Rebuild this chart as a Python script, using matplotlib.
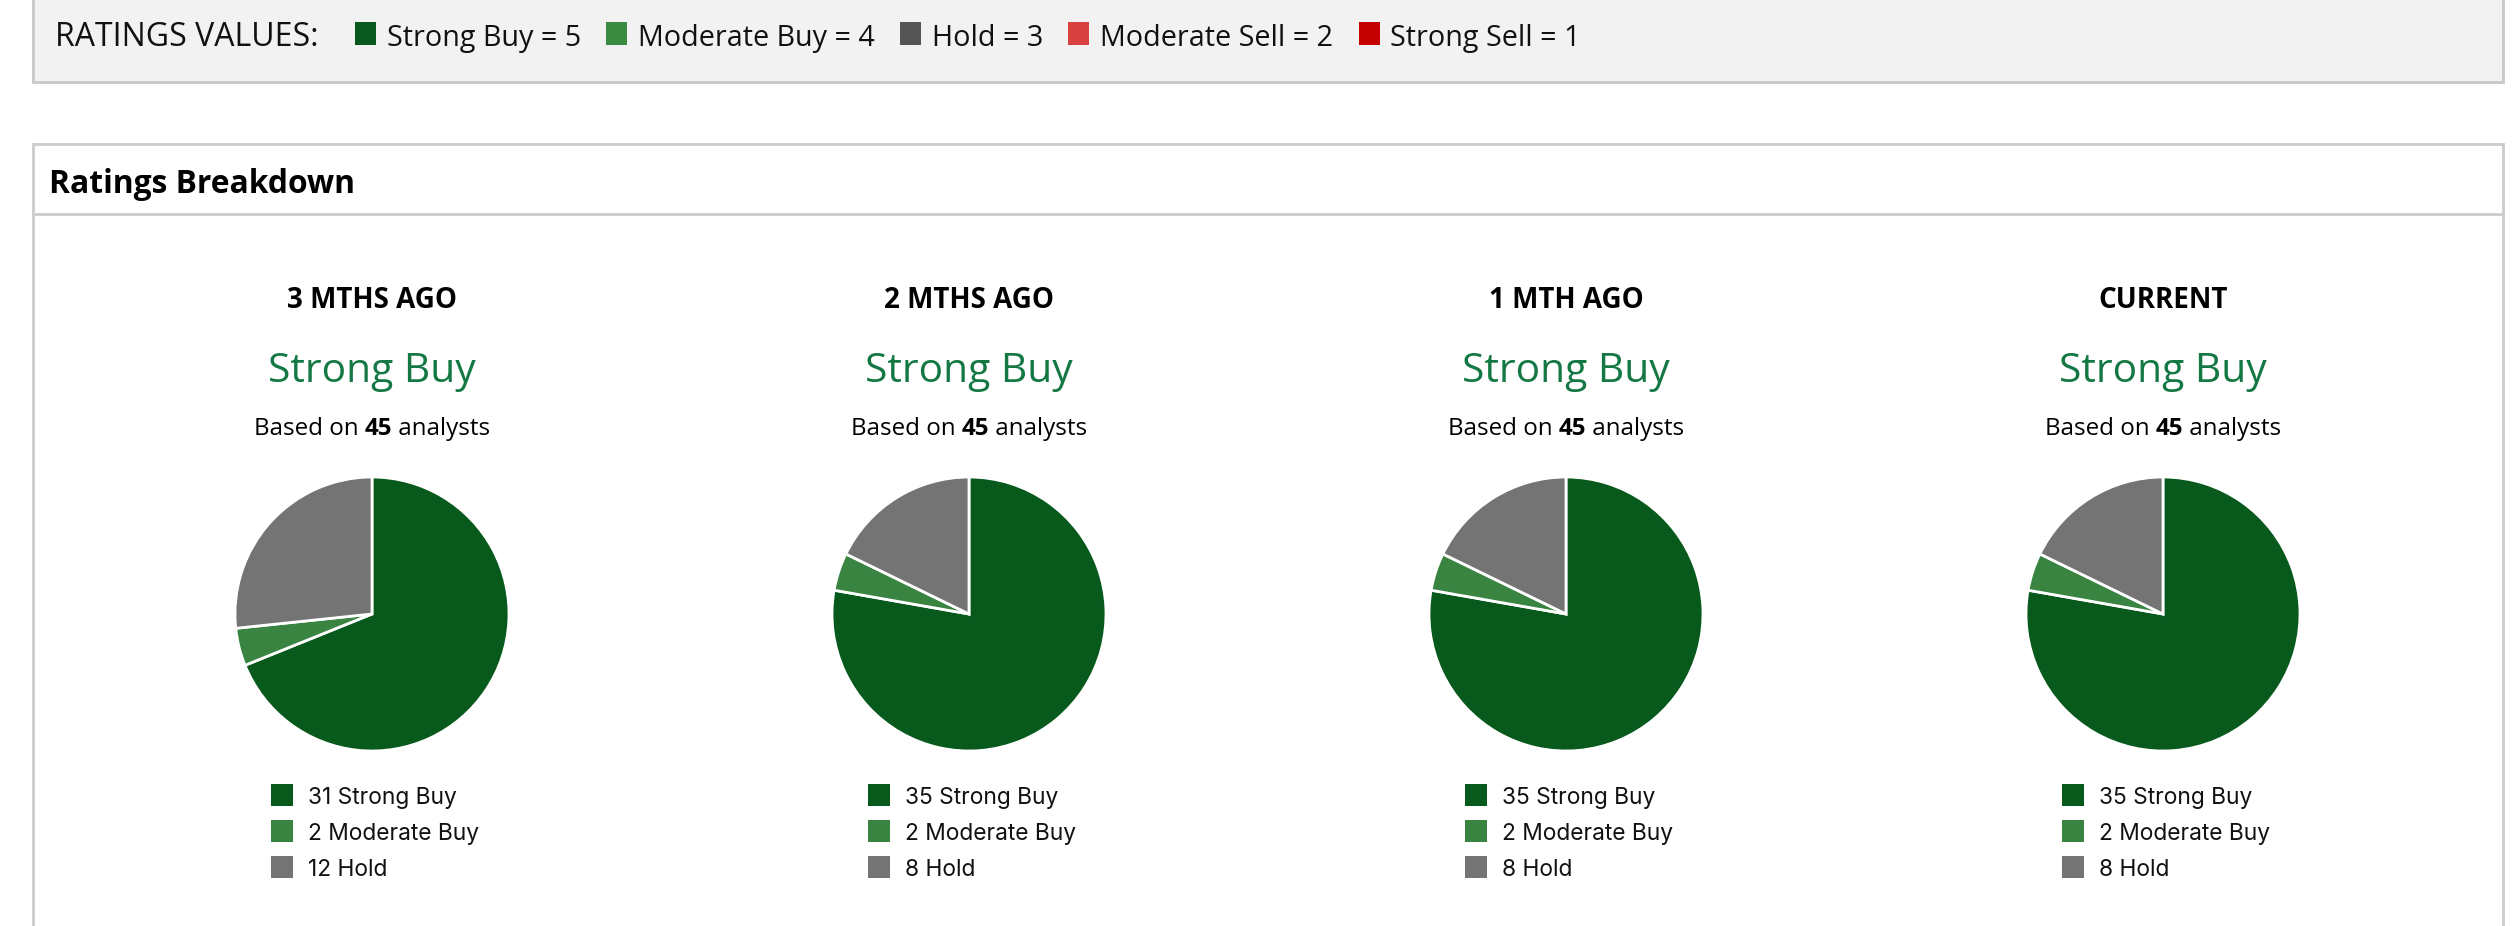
import matplotlib
matplotlib.use("Agg")
import matplotlib.pyplot as plt
from matplotlib.patches import Rectangle

# ---------------- data ----------------
rating_names = ["Strong Buy", "Moderate Buy", "Hold", "Moderate Sell", "Strong Sell"]
rating_values = [5, 4, 3, 2, 1]
header_colors = ["#07591d", "#3b8a42", "#555555", "#d94040", "#c40000"]

periods = ["3 MTHS AGO", "2 MTHS AGO", "1 MTH AGO", "CURRENT"]
consensus = ["Strong Buy", "Strong Buy", "Strong Buy", "Strong Buy"]
analysts = [45, 45, 45, 45]
strong_buy = [31, 35, 35, 35]
moderate_buy = [2, 2, 2, 2]
hold = [12, 8, 8, 8]
slice_names = ["Strong Buy", "Moderate Buy", "Hold"]
slice_colors = ["#07591c", "#3a8441", "#747474"]

# ---------------- figure ----------------
W, H = 2516, 926
DPI = 100
fig = plt.figure(figsize=(W / DPI, H / DPI), dpi=DPI)
bg = fig.add_axes([0, 0, 1, 1])
bg.set_xlim(0, W)
bg.set_ylim(H, 0)
bg.axis("off")

TF = "Open Sans"
LF = "Inter"

# header box
bg.add_patch(Rectangle((33, -10), 2470, 92, facecolor="#f2f2f2",
                       edgecolor="#c8c8c8", linewidth=2))
bg.text(55, 46, "RATINGS VALUES:", fontfamily=TF, fontsize=23,
        va="baseline", ha="left", color="#111111")

fig.canvas.draw()
renderer = fig.canvas.get_renderer()

x = 355
for name, val, col in zip(rating_names, rating_values, header_colors):
    bg.add_patch(Rectangle((x, 22), 21, 23, facecolor=col, edgecolor="none"))
    t = bg.text(x + 32, 46, f"{name} = {val}", fontfamily=TF, fontsize=20.7,
                va="baseline", ha="left", color="#111111")
    bb = t.get_window_extent(renderer)
    x = x + 32 + bb.width + 25

# ratings breakdown box
bg.add_patch(Rectangle((33, 144), 2470, 900, facecolor="white",
                       edgecolor="#cccccc", linewidth=2))
bg.plot([33, 2503], [214, 214], color="#cccccc", linewidth=2)
bg.text(49, 193, "Ratings Breakdown", fontfamily=TF, fontweight="bold",
        fontsize=22.9, va="baseline", ha="left", color="#000000")

centers = [372, 969, 1566, 2163]
R = 137
pie_cy = 614

for i, cx in enumerate(centers):
    bg.text(cx, 308, periods[i], fontfamily=TF, fontweight="bold", fontsize=20,
            ha="center", va="baseline", color="#000000")
    bg.text(cx, 382, consensus[i], fontfamily=TF, fontsize=29.3,
            ha="center", va="baseline", color="#147844")
    # "Based on **45** analysts"
    parts = [("Based on ", "normal"), (str(analysts[i]), "bold"), (" analysts", "normal")]
    widths = []
    tmp = []
    for s, w in parts:
        t = bg.text(0, 0, s.replace(" ", "\u00a0"), fontfamily=TF, fontsize=17.4, fontweight=w)
        widths.append(t.get_window_extent(renderer).width)
        tmp.append(t)
    for t in tmp:
        t.remove()
    total = sum(widths)
    xs = cx - total / 2
    for (s, w), wd in zip(parts, widths):
        bg.text(xs, 435, s.replace(" ", "\u00a0"), fontfamily=TF, fontsize=17.4,
                fontweight=w, ha="left", va="baseline", color="#000000")
        xs += wd

    # pie
    pax = fig.add_axes([(cx - R) / W, 1 - (pie_cy + R) / H, 2 * R / W, 2 * R / H])
    vals = [strong_buy[i], moderate_buy[i], hold[i]]
    pax.pie(vals, colors=slice_colors, startangle=90, counterclock=False,
            radius=1.0, wedgeprops=dict(edgecolor="white", linewidth=2.0))
    pax.set_xlim(-1.0, 1.0)
    pax.set_ylim(-1.0, 1.0)
    pax.set_aspect("equal")
    pax.axis("off")

    # legend
    lx = cx - 101
    for k, (nm, v, col) in enumerate(zip(slice_names, vals, slice_colors)):
        yc = 795 + 36 * k
        bg.add_patch(Rectangle((lx, yc - 11), 22, 22, facecolor=col, edgecolor="none"))
        bg.text(lx + 37, yc + 9, f"{v} {nm}", fontfamily=LF, fontsize=16.4,
                ha="left", va="baseline", color="#111111")

fig.savefig("out.png", dpi=DPI)
